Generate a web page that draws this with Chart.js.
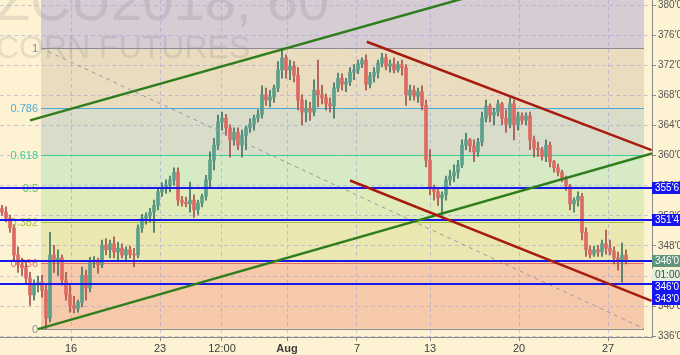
<!DOCTYPE html>
<html>
<head>
<meta charset="utf-8">
<script src="https://cdn.jsdelivr.net/npm/chart.js@4.4.1/dist/chart.umd.min.js"></script>
<style>
  html, body { margin: 0; padding: 0; background: #fdf3d3; }
  canvas { display: block; }
</style>
</head>
<body>
<canvas id="myChart" width="680" height="355"></canvas>
<script>
// hourly candles, one slot each
const opens = [
  353.0, 352.5, 351.7, 350.4, 346.8, 345.5, 345.1, 343.7, 341.5, 342.8,
  343.2, 342.1, 338.4, 346.8, 345.9, 346.4, 343.5, 341.5, 340.1, 339.7,
  340.5, 344.1, 342.4, 345.9, 346.1, 345.5, 348.1, 347.5, 348.3, 347.2,
  347.7, 346.8, 347.5, 346.9, 346.8, 350.4, 351.7, 352.0, 352.5, 353.4,
  355.2, 355.8, 356.1, 356.8, 357.8, 354.1, 353.8, 353.6, 354.1, 352.8,
  353.7, 354.6, 356.8, 359.4, 361.4, 364.5, 365.0, 363.7, 362.1, 363.1,
  361.4, 362.7, 363.7, 364.2, 365.0, 365.5, 368.1, 367.4, 367.8, 369.0,
  371.4, 373.0, 371.4, 371.9, 370.7, 367.4, 365.8, 366.3, 365.8, 368.7,
  368.1, 367.7, 366.9, 366.6, 369.0, 370.3, 369.5, 369.8, 371.1, 371.4,
  372.2, 372.7, 369.5, 370.6, 371.1, 372.3, 373.0, 371.9, 372.2, 371.4,
  372.1, 371.7, 368.1, 368.7, 367.9, 368.5, 366.7, 359.4, 355.7, 355.2,
  354.4, 354.8, 356.8, 357.3, 357.8, 358.8, 361.4, 362.1, 361.3, 360.5,
  361.8, 365.0, 366.6, 365.4, 365.8, 366.9, 365.0, 364.2, 366.9, 364.1,
  365.3, 364.7, 365.3, 362.1, 361.0, 360.8, 359.9, 361.4, 359.2, 358.4,
  357.8, 357.0, 356.0, 353.6, 354.1, 354.6, 349.8, 347.5, 346.9, 347.5,
  347.2, 348.3, 347.7, 347.3, 346.4, 345.9, 346.8
];
const highs = [
  353.4, 353.2, 352.1, 350.8, 347.9, 346.4, 345.9, 344.5, 343.5, 344.0,
  344.1, 342.8, 349.8, 348.1, 347.5, 346.8, 344.5, 342.8, 341.3, 340.8,
  345.2, 344.8, 346.5, 346.6, 346.4, 348.8, 349.0, 348.8, 349.2, 348.5,
  348.3, 347.9, 348.0, 347.7, 350.8, 352.2, 352.4, 353.0, 354.1, 355.7,
  356.4, 356.8, 357.3, 358.4, 358.4, 354.6, 354.5, 356.5, 354.8, 354.1,
  354.9, 357.4, 360.5, 362.3, 365.4, 365.8, 365.5, 364.1, 363.7, 363.7,
  363.4, 363.9, 364.9, 365.4, 366.1, 369.3, 369.0, 368.7, 369.4, 372.5,
  374.3, 373.4, 372.7, 372.5, 371.7, 368.1, 367.4, 367.1, 370.1, 372.7,
  369.4, 368.2, 367.7, 369.7, 371.0, 370.9, 370.3, 371.7, 372.1, 372.7,
  373.0, 373.4, 371.1, 371.7, 372.7, 373.6, 373.5, 372.7, 373.0, 372.5,
  372.7, 372.1, 369.4, 369.3, 369.0, 369.3, 367.4, 360.8, 356.1, 355.7,
  355.2, 357.3, 358.1, 358.8, 359.4, 362.1, 363.0, 362.3, 362.1, 362.3,
  365.8, 367.4, 366.9, 366.3, 367.4, 367.1, 366.1, 367.7, 367.4, 365.8,
  365.7, 365.7, 365.8, 362.6, 361.8, 361.1, 362.1, 361.8, 359.4, 358.9,
  358.1, 357.3, 356.2, 354.4, 355.2, 355.0, 350.4, 348.0, 348.0, 348.1,
  348.8, 350.1, 348.8, 347.9, 347.2, 348.4, 347.5
];
const lows = [
  352.1, 351.2, 349.8, 345.9, 344.5, 344.1, 343.1, 340.1, 340.8, 341.9,
  341.2, 337.0, 337.9, 344.5, 344.1, 342.8, 340.8, 339.2, 339.1, 339.2,
  339.9, 340.8, 341.9, 345.1, 344.4, 345.1, 346.8, 346.4, 346.4, 346.1,
  346.4, 346.1, 346.4, 345.2, 346.4, 349.8, 350.9, 351.2, 349.8, 352.8,
  354.6, 355.0, 355.2, 356.1, 353.4, 353.3, 353.2, 352.5, 351.8, 352.2,
  353.2, 354.1, 355.7, 358.1, 360.8, 363.4, 362.7, 359.8, 361.4, 360.8,
  359.8, 360.8, 363.1, 363.4, 364.5, 365.0, 366.7, 366.5, 367.1, 368.5,
  370.3, 370.3, 370.1, 369.8, 366.1, 364.1, 364.5, 364.7, 365.3, 366.5,
  366.9, 366.1, 365.8, 365.0, 368.5, 368.7, 368.5, 369.3, 370.1, 370.9,
  371.7, 368.7, 369.0, 369.8, 370.3, 371.8, 371.4, 371.1, 371.0, 371.1,
  370.7, 366.7, 367.4, 367.4, 367.1, 366.1, 358.5, 354.8, 354.1, 353.4,
  352.1, 354.1, 356.1, 356.5, 357.0, 358.4, 360.8, 360.5, 359.2, 359.9,
  361.3, 364.5, 364.5, 364.1, 365.3, 364.1, 363.1, 363.7, 362.1, 363.4,
  364.2, 364.1, 360.8, 359.8, 359.9, 359.4, 359.2, 358.5, 357.8, 357.3,
  356.5, 355.4, 352.8, 352.5, 353.3, 348.8, 346.6, 346.4, 346.6, 346.6,
  346.6, 346.9, 346.8, 345.6, 344.8, 343.2, 345.6
];
const closes = [
  352.5, 351.7, 350.4, 346.8, 345.5, 345.1, 343.7, 341.5, 342.8, 343.2,
  342.1, 338.4, 346.8, 345.9, 346.4, 343.5, 341.5, 340.1, 339.7, 340.5,
  344.1, 342.4, 345.9, 346.1, 345.5, 348.1, 347.5, 348.3, 347.2, 347.7,
  346.8, 347.5, 346.9, 346.8, 350.4, 351.7, 352.0, 352.5, 353.4, 355.2,
  355.8, 356.1, 356.8, 357.8, 354.1, 353.8, 353.6, 354.1, 352.8, 353.7,
  354.6, 356.8, 359.4, 361.4, 364.5, 365.0, 363.7, 362.1, 363.1, 361.4,
  362.7, 363.7, 364.2, 365.0, 365.5, 368.1, 367.4, 367.8, 369.0, 371.4,
  373.0, 371.4, 371.9, 370.7, 367.4, 365.8, 366.3, 365.8, 368.7, 368.1,
  367.7, 366.9, 366.6, 369.0, 370.3, 369.5, 369.8, 371.1, 371.4, 372.2,
  372.7, 369.5, 370.6, 371.1, 372.3, 373.0, 371.9, 372.2, 371.4, 372.1,
  371.7, 368.1, 368.7, 367.9, 368.5, 366.7, 359.4, 355.7, 355.2, 354.4,
  354.8, 356.8, 357.3, 357.8, 358.8, 361.4, 362.1, 361.3, 360.5, 361.8,
  365.0, 366.6, 365.4, 365.8, 366.9, 365.0, 364.2, 366.9, 364.1, 365.3,
  364.7, 365.3, 362.1, 361.0, 360.8, 359.9, 361.4, 359.2, 358.4, 357.8,
  357.0, 356.0, 353.6, 354.1, 354.6, 349.8, 347.5, 346.9, 347.5, 347.2,
  348.3, 347.7, 347.3, 346.4, 345.9, 346.8, 346.0
];

// x axis: tick positions in bar slots and their labels
const xTickPos = [17.25, 39.5, 55, 71.25, 88.75, 107, 129.25, 151.5];
const xTickLabels = ['16', '23', '12:00', 'Aug', '7', '13', '20', '27'];

// y axis ticks (price)
const yTickVals = [336, 340, 344, 348, 352, 356, 360, 364, 368, 372, 376, 380];

// fib retracement drawn from the low to the high
const fibLevels = [1, 0.786, 0.618, 0.5, 0.382, 0.236, 0];
const fibHigh = 374.3;
const fibLow = 337.0;
const fibFrom = 9.75;
const fibTo = 160.5;

// horizontal price lines (blue)
const priceLines = [355.75, 351.5, 346.0, 343.0];

// trend lines: [slot1, price1, slot2, price2]
const greenLines = [[7, 364.7, 120, 381.6], [9, 336.95, 162.5, 360.3]];
const redLines = [[91.2, 375.15, 162.4, 360.75], [87, 356.7, 162.4, 340.7]];

const countdown = '01:00';

// styles
const bandColors = ['#d6ccd4', '#e9dcbf', '#d9dcc9', '#d6eac6', '#dfebb9', '#eae7b1', '#f5c9aa'];
const fibColors = ['#8c8a94', '#4fa9d6', '#3fcb9c', '#55bf55', '#a2c43c', '#e56f5c', '#8c8a94'];
const upBody = '#5aa08b', dnBody = '#dd6a62';
const upWick = '#3f7565', dnWick = '#a9504a';
const fontFam = '"Liberation Sans", Arial, sans-serif';

function fmt(v) {
  const w = Math.floor(v + 1e-9);
  return w + "'" + Math.round((v - w) * 8);
}

const overlay = {
  id: 'overlay',
  beforeDraw(chart) {
    const {ctx, chartArea: a, scales: {x, y}} = chart;
    ctx.save();
    ctx.fillStyle = '#fdf3d3';
    ctx.fillRect(0, 0, chart.width, chart.height);

    const x0 = x.getPixelForValue(fibFrom), x1 = x.getPixelForValue(fibTo);
    const fy = l => y.getPixelForValue(fibLow + l * (fibHigh - fibLow));
    ctx.fillStyle = bandColors[0];
    ctx.fillRect(x0, a.top, x1 - x0, fy(1) - a.top);
    for (let k = 0; k < fibLevels.length - 1; k++) {
      ctx.fillStyle = bandColors[k + 1];
      ctx.fillRect(x0, fy(fibLevels[k]), x1 - x0, fy(fibLevels[k + 1]) - fy(fibLevels[k]));
    }

    // watermark
    ctx.beginPath();
    ctx.rect(a.left, a.top, a.right - a.left, a.bottom - a.top);
    ctx.clip();
    ctx.fillStyle = 'rgba(110,105,120,0.17)';
    ctx.textBaseline = 'alphabetic';
    ctx.textAlign = 'left';
    ctx.font = '56px ' + fontFam;
    ctx.fillText('ZCU2018, 60', -4, 20);
    ctx.font = '32px ' + fontFam;
    ctx.fillText('CORN FUTURES', -4, 58);
    ctx.restore();
  },
  beforeDatasetsDraw(chart) {
    const {ctx, scales: {x, y}} = chart;
    const x0 = x.getPixelForValue(fibFrom), x1 = x.getPixelForValue(fibTo);
    ctx.save();
    ctx.font = '11px ' + fontFam;
    ctx.textAlign = 'right';
    ctx.textBaseline = 'middle';
    fibLevels.forEach((l, k) => {
      const py = Math.round(y.getPixelForValue(fibLow + l * (fibHigh - fibLow))) + 0.5;
      ctx.strokeStyle = fibColors[k];
      ctx.lineWidth = 1;
      ctx.beginPath();
      ctx.moveTo(x0, py);
      ctx.lineTo(x1, py);
      ctx.stroke();
      ctx.fillStyle = fibColors[k];
      ctx.fillText(String(l), x0 - 3, py);
    });
    ctx.restore();
  },
  afterDatasetsDraw(chart) {
    const {ctx, chartArea: a, scales: {x, y}} = chart;
    ctx.save();
    ctx.beginPath();
    ctx.rect(a.left, a.top, a.right - a.left, a.bottom - a.top);
    ctx.clip();

    // fib diagonal
    ctx.strokeStyle = '#9a9aa2';
    ctx.lineWidth = 1;
    ctx.setLineDash([4, 4]);
    ctx.beginPath();
    ctx.moveTo(x.getPixelForValue(fibFrom), y.getPixelForValue(fibHigh));
    ctx.lineTo(x.getPixelForValue(fibTo), y.getPixelForValue(fibLow));
    ctx.stroke();
    ctx.setLineDash([]);

    // blue lines
    ctx.strokeStyle = '#1818ee';
    ctx.lineWidth = 2;
    priceLines.forEach(p => {
      const py = Math.round(y.getPixelForValue(p));
      ctx.beginPath();
      ctx.moveTo(a.left, py);
      ctx.lineTo(a.right, py);
      ctx.stroke();
    });

    // trend lines
    const seg = (l, c) => {
      ctx.strokeStyle = c;
      ctx.lineWidth = 2.5;
      ctx.beginPath();
      ctx.moveTo(x.getPixelForValue(l[0]), y.getPixelForValue(l[1]));
      ctx.lineTo(x.getPixelForValue(l[2]), y.getPixelForValue(l[3]));
      ctx.stroke();
    };
    greenLines.forEach(l => seg(l, '#2f7d1c'));
    redLines.forEach(l => seg(l, '#a81b0f'));
    ctx.restore();
  },
  afterDraw(chart) {
    const {ctx, chartArea: a, scales: {y}} = chart;
    const last = closes[closes.length - 1];
    const items = [
      {p: 355.75, t: fmt(355.75), bg: '#1616f0', fg: '#ffffff'},
      {p: 351.5, t: fmt(351.5), bg: '#1616f0', fg: '#ffffff'},
      {p: last, t: fmt(last), bg: '#5e957c', fg: '#ffffff'},
      {p: last, dy: 14, t: countdown, bg: '#e6eedd', fg: '#2f5a40'},
      {p: 346.0, t: fmt(346.0), bg: '#1616f0', fg: '#ffffff'},
      {p: 343.0, t: fmt(343.0), bg: '#1616f0', fg: '#ffffff'}
    ];
    const h = 12;
    let prev = -100;
    ctx.save();
    ctx.font = '10px ' + fontFam;
    ctx.textBaseline = 'middle';
    ctx.textAlign = 'left';
    items.forEach(it => {
      let cy = y.getPixelForValue(it.p) + (it.dy || 0);
      if (cy < prev + h) cy = prev + h;
      prev = cy;
      ctx.fillStyle = it.bg;
      ctx.fillRect(a.right, Math.round(cy - h / 2), chart.width - a.right, h);
      ctx.fillStyle = it.fg;
      ctx.fillText(it.t, a.right + 3, cy + 0.5);
    });
    ctx.restore();
  }
};

const idx = closes.map((_, i) => i);
const isUp = i => closes[i] >= opens[i];

new Chart(document.getElementById('myChart').getContext('2d'), {
  type: 'bar',
  data: {
    datasets: [
      {
        data: idx.map(i => ({x: i, y: [lows[i], highs[i]]})),
        backgroundColor: idx.map(i => isUp(i) ? upWick : dnWick),
        barThickness: 1,
        grouped: false,
        order: 2
      },
      {
        data: idx.map(i => ({x: i, y: [opens[i], closes[i]]})),
        backgroundColor: idx.map(i => isUp(i) ? upBody : dnBody),
        barThickness: 3,
        grouped: false,
        order: 1
      }
    ]
  },
  options: {
    responsive: false,
    animation: false,
    devicePixelRatio: 1,
    layout: {padding: 0},
    plugins: {legend: {display: false}, tooltip: {enabled: false}},
    scales: {
      x: {
        type: 'linear',
        min: -0.5,
        max: 162.5,
        offset: false,
        afterBuildTicks: s => { s.ticks = xTickPos.map(v => ({value: v})); },
        afterFit: s => { s.height = 18; s.paddingLeft = 0; s.paddingRight = 0; },
        ticks: {
          autoSkip: false,
          maxRotation: 0,
          padding: 1,
          color: '#3c3c3c',
          font: c => ({family: fontFam, size: 11, weight: xTickLabels[c.index] === 'Aug' ? 'bold' : 'normal'}),
          callback: (v, i) => xTickLabels[i]
        },
        grid: {color: 'rgba(160,160,215,0.55)', tickLength: 4, tickColor: '#8a8a8a', offset: false},
        border: {color: '#8a8a8a', dash: [4, 3]}
      },
      y: {
        position: 'right',
        min: 335.9,
        max: 380.7,
        afterBuildTicks: s => { s.ticks = yTickVals.map(v => ({value: v})); },
        afterFit: s => { s.width = 28; s.paddingTop = 0; s.paddingBottom = 0; },
        ticks: {
          autoSkip: false,
          padding: 2,
          color: '#555',
          font: {family: fontFam, size: 10},
          callback: v => fmt(v)
        },
        grid: {color: 'rgba(160,160,215,0.55)', tickLength: 4, tickColor: '#8a8a8a'},
        border: {color: '#8a8a8a', dash: [4, 3]}
      }
    }
  },
  plugins: [overlay]
});
</script>
</body>
</html>
